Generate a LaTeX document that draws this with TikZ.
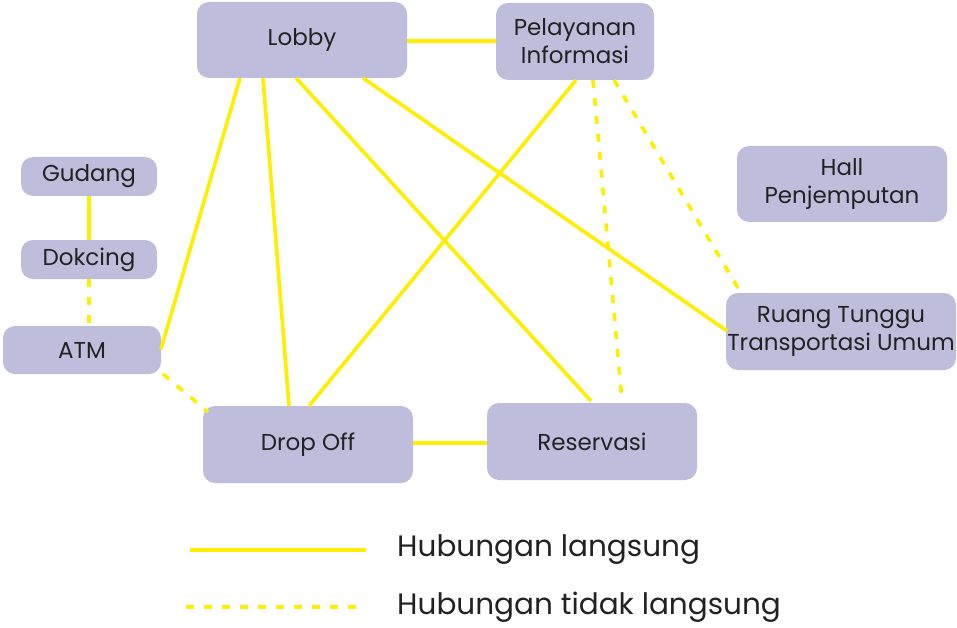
\documentclass[tikz,border=0pt]{standalone}
\usepackage{fontspec}
\setmainfont{Poppins}
\definecolor{boxfill}{HTML}{BEBDDC}
\definecolor{linkyellow}{HTML}{FFEE00}
\definecolor{labeltext}{HTML}{222222}
\begin{document}
\begin{tikzpicture}[x=1pt,y=-1pt,
  room/.style={fill=boxfill, draw=none, rounded corners=12pt, align=center,
    text=labeltext, font=\fontsize{23}{28}\selectfont, inner sep=0pt},
  direct/.style={draw=linkyellow, line width=3.6pt},
  indirect/.style={draw=linkyellow, line width=3.6pt, dash pattern=on 8pt off 10pt},
  legendtext/.style={text=labeltext, font=\fontsize{29.5}{34}\selectfont, anchor=west, inner sep=0pt}]
\useasboundingbox (0,0) rectangle (957,628);
\fill[white] (0,0) rectangle (957,628);

% rooms
\node[room, minimum width=210pt, minimum height=76pt] (lobby) at (302,40) {Lobby};
\node[room, minimum width=158pt, minimum height=77pt] (info) at (575,41.5) {Pelayanan\\Informasi};
\node[room, minimum width=136pt, minimum height=39pt] (gudang) at (89,176.5) {Gudang};
\node[room, minimum width=136pt, minimum height=39pt] (dok) at (89,259.5) {Dokcing};
\node[room, minimum width=158pt, minimum height=48pt] (atm) at (82,350) {ATM};
\node[room, minimum width=210pt, minimum height=76pt] (hall) at (842,184) {Hall\\Penjemputan};
\node[room, minimum width=230pt, minimum height=77pt] (ruang) at (841,331.5) {Ruang Tunggu\\Transportasi Umum};
\node[room, minimum width=210pt, minimum height=77pt] (drop) at (308,444.5) {Drop Off};
\node[room, minimum width=210pt, minimum height=77pt] (res) at (592,441.5) {Reservasi};

% connection points on the room edges
\coordinate (lobbyE) at (407,41);
\coordinate (infoW) at (496,41);
\coordinate (lobbyA) at (240,78);
\coordinate (lobbyB) at (263,78);
\coordinate (lobbyC) at (296,78);
\coordinate (lobbyD) at (363,78);
\coordinate (infoA) at (576,80);
\coordinate (infoB) at (593,80);
\coordinate (infoC) at (614,80);
\coordinate (dokS) at (89,279);
\coordinate (atmN) at (89,326);
\coordinate (atmR) at (161,349);
\coordinate (atmC) at (163,374);
\coordinate (dropA) at (289,406);
\coordinate (dropB) at (309,406);
\coordinate (dropC) at (208,412);
\coordinate (dropE) at (413,443);
\coordinate (resW) at (487,443);
\coordinate (resA) at (591,401);
\coordinate (resB) at (622,401);
\coordinate (ruangA) at (727,331);
\coordinate (ruangB) at (741,293);

% links
\draw[direct] (lobbyE) -- (infoW);
\draw[direct] (lobbyA) -- (atmR);
\draw[direct] (lobbyB) -- (dropA);
\draw[direct] (lobbyC) -- (resA);
\draw[direct] (lobbyD) -- (ruangA);
\draw[direct] (infoA) -- (dropB);
\draw[indirect] (infoB) -- (resB);
\draw[indirect] (infoC) -- (ruangB);
\draw[direct] (gudang.south) -- (dok.north);
\draw[indirect] (dokS) -- (atmN);
\draw[indirect] (atmC) -- (dropC);
\draw[direct] (dropE) -- (resW);

% legend
\coordinate (solidA) at (190,550);
\coordinate (solidB) at (366,550);
\coordinate (dashA) at (186,607);
\coordinate (dashB) at (366,607);
\draw[direct] (solidA) -- (solidB);
\draw[indirect] (dashA) -- (dashB);
\node[legendtext] (legA) at (397,550) {Hubungan langsung};
\node[legendtext] (legB) at (397,607) {Hubungan tidak langsung};
\end{tikzpicture}
\end{document}
